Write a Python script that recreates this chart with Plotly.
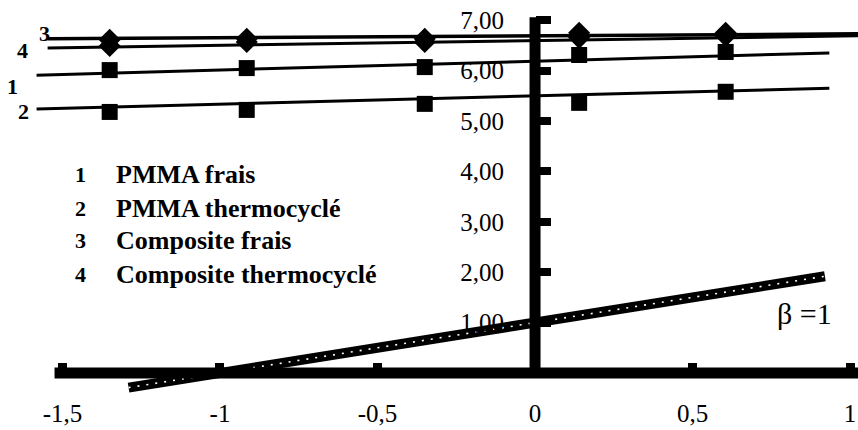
import plotly.graph_objects as go

# Measured points (same abscissae for the four materials)
x_vals = [-1.35, -0.915, -0.35, 0.14, 0.605]
pmma_frais = [6.01, 6.05, 6.07, 6.31, 6.37]
pmma_thermo = [5.18, 5.22, 5.34, 5.36, 5.58]
comp_frais = [6.61, 6.63, 6.63, 6.75, 6.75]
comp_thermo = [6.49, 6.57, 6.57, 6.65, 6.69]

# Straight-line fits (end points)
fit_x_pmma = [-1.582, 0.934]
fit_pmma_frais = [5.91, 6.35]
fit_pmma_thermo = [5.24, 5.65]
fit_x_comp = [-1.547, 1.025]
fit_comp_frais = [6.63, 6.73]
fit_comp_thermo = [6.45, 6.69]

# Reference line beta = 1
beta_x = [-1.29, 0.92]
beta_y = [-0.29, 1.92]

x_ticks = [-1.5, -1, -0.5, 0, 0.5, 1]
x_labels = ["-1,5", "-1", "-0,5", "0", "0,5", "1"]
y_ticks = [1, 2, 3, 4, 5, 6, 7]
y_labels = ["1,00", "2,00", "3,00", "4,00", "5,00", "6,00", "7,00"]

legend_nums = ["1", "2", "3", "4"]
legend_names = ["PMMA frais", "PMMA thermocyclé", "Composite frais", "Composite thermocyclé"]

X_RANGE = [-1.6981, 1.025]
Y_RANGE = [-1.131, 7.401]
SERIF = "Liberation Serif, Times New Roman, serif"

fig = go.Figure()

# reference line beta = 1 (thick, speckled)
fig.add_trace(go.Scatter(x=beta_x, y=beta_y, mode="lines",
                         line=dict(color="black", width=10), hoverinfo="skip"))
fig.add_trace(go.Scatter(x=beta_x, y=beta_y, mode="lines",
                         line=dict(color="white", width=1.6, dash="2px,7px"), hoverinfo="skip"))

# fitted lines
fig.add_trace(go.Scatter(x=fit_x_comp, y=fit_comp_frais, mode="lines",
                         line=dict(color="black", width=3.5)))
fig.add_trace(go.Scatter(x=fit_x_comp, y=fit_comp_thermo, mode="lines",
                         line=dict(color="black", width=3)))
fig.add_trace(go.Scatter(x=fit_x_pmma, y=fit_pmma_frais, mode="lines",
                         line=dict(color="black", width=3)))
fig.add_trace(go.Scatter(x=fit_x_pmma, y=fit_pmma_thermo, mode="lines",
                         line=dict(color="black", width=3)))

# measured points
for ys, sym, size in [(pmma_frais, "square", 16), (pmma_thermo, "square", 16),
                      (comp_thermo, "diamond", 17), (comp_frais, "diamond", 17)]:
    fig.add_trace(go.Scatter(x=x_vals, y=ys, mode="markers",
                             marker=dict(symbol=sym, size=size, color="black",
                                         line=dict(width=0))))

# axes drawn as heavy bars through the origin
fig.add_shape(type="line", x0=-1.525, x1=1.025, y0=0, y1=0,
              line=dict(color="black", width=11))
fig.add_shape(type="line", x0=0, x1=0, y0=0, y1=7.06,
              line=dict(color="black", width=11))

annotations = []
# curve numbers at the left end of each fit
for txt, xx, yy in [("3", -1.557, 6.74), ("4", -1.626, 6.39),
                    ("1", -1.657, 5.69), ("2", -1.623, 5.18)]:
    annotations.append(dict(x=xx, y=yy, xref="x", yref="y", text="<b>%s</b>" % txt,
                            showarrow=False,
                            font=dict(family=SERIF, size=22, color="black"),
                            xanchor="center", yanchor="middle"))

# legend block
legend_rows = [3.93, 3.27, 2.62, 1.96]
for num, name, yy in zip(legend_nums, legend_names, legend_rows):
    annotations.append(dict(x=-1.443, y=yy, xref="x", yref="y", text="<b>%s</b>" % num,
                            showarrow=False, xanchor="center", yanchor="middle",
                            font=dict(family=SERIF, size=22, color="black")))
    annotations.append(dict(x=-1.336, y=yy, xref="x", yref="y", text="<b>%s</b>" % name,
                            showarrow=False, xanchor="left", yanchor="middle",
                            font=dict(family=SERIF, size=26, color="black")))

annotations.append(dict(x=0.855, y=1.19, xref="x", yref="y", text="β =1", showarrow=False,
                        xanchor="center", yanchor="middle",
                        font=dict(family=SERIF, size=30, color="black")))

x_pos = (0 - Y_RANGE[0]) / (Y_RANGE[1] - Y_RANGE[0])
y_pos = (0 - X_RANGE[0]) / (X_RANGE[1] - X_RANGE[0])

fig.update_layout(
    width=858, height=430,
    margin=dict(l=0, r=0, t=0, b=0),
    paper_bgcolor="white", plot_bgcolor="white",
    showlegend=False,
    annotations=annotations,
    xaxis=dict(range=X_RANGE, anchor="free", position=x_pos,
               showgrid=False, zeroline=False, showline=False,
               tickvals=x_ticks, ticktext=x_labels,
               ticks="inside", ticklen=10, tickwidth=9, tickcolor="black",
               ticklabelstandoff=23, ticklabeloverflow="allow", automargin=False,
               tickfont=dict(family=SERIF, size=25, color="black")),
    yaxis=dict(range=Y_RANGE, anchor="free", position=y_pos,
               showgrid=False, zeroline=False, showline=False,
               tickvals=y_ticks, ticktext=y_labels,
               ticks="inside", ticklen=15, tickwidth=8, tickcolor="black",
               ticklabelstandoff=31, automargin=False,
               tickfont=dict(family=SERIF, size=25, color="black")),
)

fig.write_html("out.html")
